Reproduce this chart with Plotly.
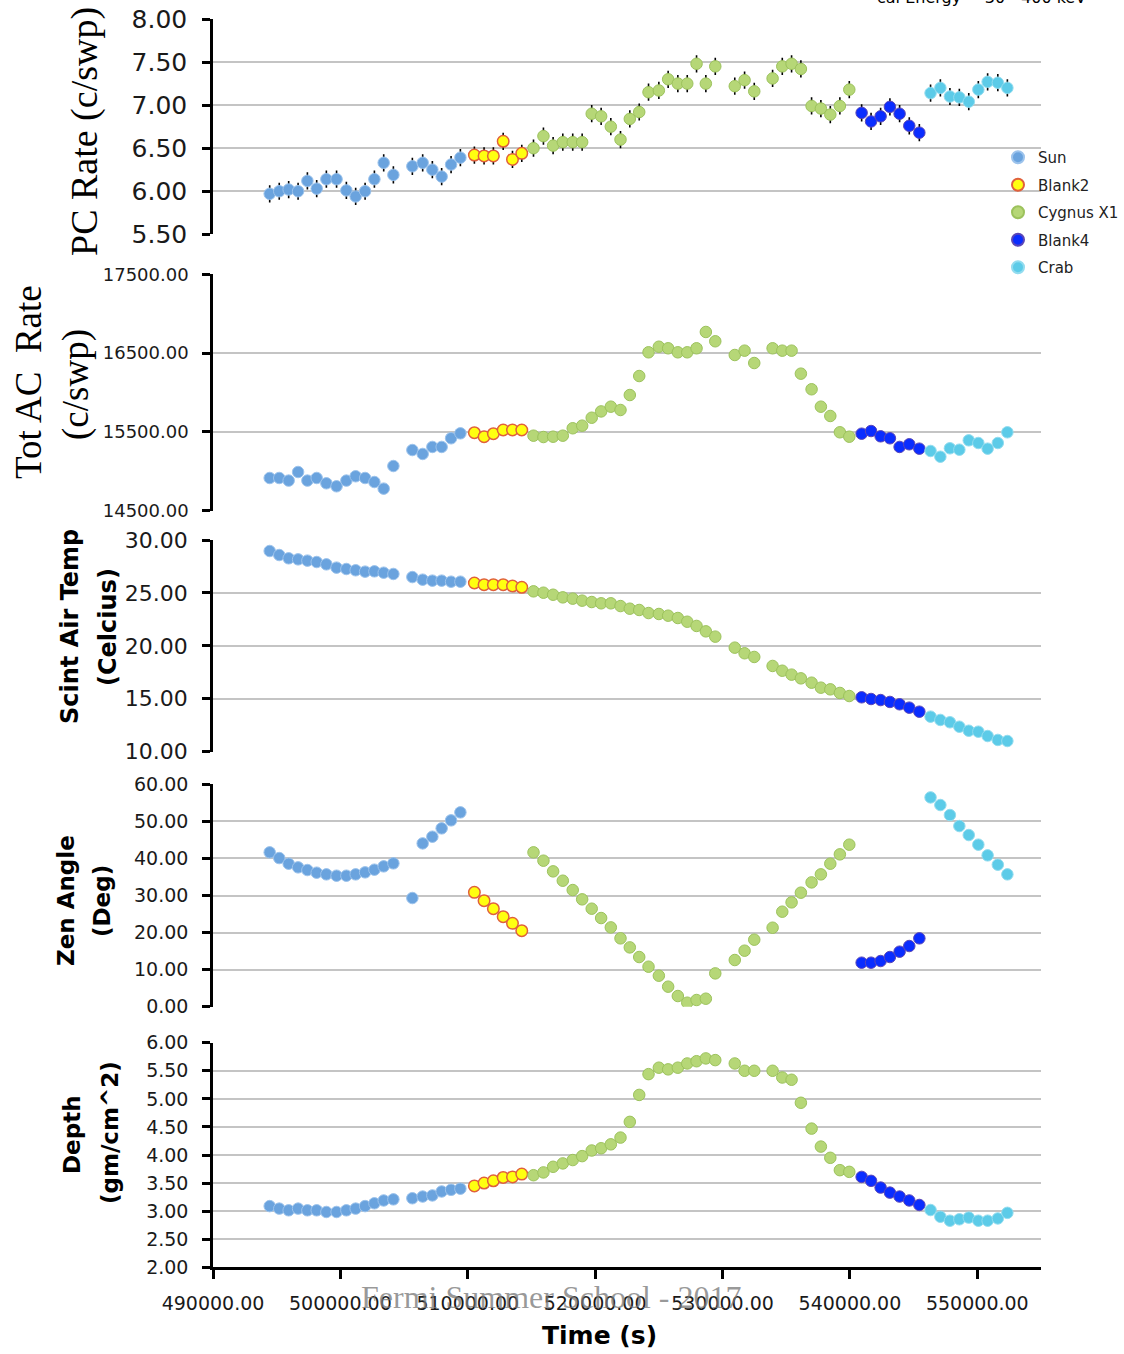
import plotly.graph_objects as go

W, H = 1124, 1354

# ---------------- data ----------------
series_names = ["Sun", "Blank2", "Cygnus X1", "Blank4", "Crab"]

t_sun = [494450, 495200, 495940, 496680, 497410, 498140, 498900, 499700, 500470, 501200,
         501940, 502670, 503400, 504160, 505650, 506460, 507220, 507950, 508690, 509420]
t_blank2 = [510520, 511280, 512010, 512780, 513510, 514240]
t_cyg = [515160, 515940, 516700, 517460, 518240, 518980, 519730, 520470, 521230, 521990,
         522720, 523460, 524190, 525000, 525730, 526490, 527230, 527960, 528690, 529430,
         530960, 531730, 532490, 533930, 534690, 535420, 536150, 536990, 537720, 538460,
         539210, 539950]
t_blank4 = [540920, 541660, 542410, 543140, 543900, 544660, 545450]
t_crab = [546330, 547100, 547850, 548590, 549330, 550080, 550810, 551610, 552360]

pc_sun = [5.97, 6.00, 6.02, 6.00, 6.12, 6.03, 6.14, 6.14, 6.01, 5.94,
          6.00, 6.14, 6.33, 6.19, 6.29, 6.33, 6.25, 6.17, 6.31, 6.39]
pc_blank2 = [6.42, 6.41, 6.41, 6.58, 6.37, 6.44]
pc_cyg = [6.50, 6.64, 6.53, 6.57, 6.57, 6.57, 6.90, 6.87, 6.75, 6.60,
          6.84, 6.92, 7.15, 7.17, 7.30, 7.25, 7.25, 7.48, 7.25, 7.45,
          7.22, 7.29, 7.16, 7.31, 7.45, 7.48, 7.42, 6.99, 6.96, 6.89,
          6.99, 7.18]
pc_blank4 = [6.91, 6.81, 6.87, 6.98, 6.90, 6.76, 6.68]
pc_crab = [7.14, 7.20, 7.10, 7.09, 7.04, 7.18, 7.27, 7.26, 7.20]
pc_err = 0.10

ac_sun = [14915, 14915, 14882, 14991, 14882, 14915, 14848, 14810, 14882, 14937,
          14915, 14864, 14780, 15067, 15270, 15220, 15309, 15309, 15419, 15482]
ac_blank2 = [15490, 15439, 15477, 15524, 15524, 15524]
ac_cyg = [15452, 15435, 15439, 15452, 15546, 15579, 15680, 15760, 15820, 15778,
          15968, 16209, 16510, 16581, 16561, 16510, 16510, 16561, 16768, 16650,
          16476, 16531, 16374, 16561, 16531, 16531, 16239, 16041, 15820, 15702,
          15495, 15439]
ac_blank4 = [15477, 15511, 15444, 15419, 15309, 15343, 15287]
ac_crab = [15258, 15185, 15292, 15274, 15393, 15359, 15287, 15359, 15495]

temp_sun = [28.96, 28.58, 28.27, 28.17, 28.05, 27.92, 27.70, 27.39, 27.26, 27.14,
            27.01, 27.04, 26.91, 26.79, 26.50, 26.25, 26.16, 26.16, 26.06, 26.06]
temp_blank2 = [25.94, 25.78, 25.78, 25.78, 25.65, 25.53]
temp_cyg = [25.15, 25.02, 24.83, 24.58, 24.46, 24.27, 24.14, 24.02, 24.02, 23.76,
            23.51, 23.39, 23.10, 23.01, 22.85, 22.63, 22.28, 21.88, 21.37, 20.87,
            19.83, 19.30, 18.95, 18.10, 17.65, 17.28, 16.93, 16.52, 16.05, 15.89,
            15.55, 15.26]
temp_blank4 = [15.14, 14.98, 14.88, 14.70, 14.48, 14.16, 13.78]
temp_crab = [13.31, 13.00, 12.78, 12.36, 11.98, 11.89, 11.48, 11.11, 11.01]

zen_sun = [41.64, 40.10, 38.58, 37.59, 36.87, 36.15, 35.70, 35.34, 35.34, 35.70,
           36.24, 36.96, 37.86, 38.67, 29.32, 44.06, 45.86, 48.11, 50.27, 52.43]
zen_blank2 = [30.85, 28.60, 26.44, 24.28, 22.48, 20.50]
zen_cyg = [41.64, 39.39, 36.51, 33.99, 31.47, 28.96, 26.44, 23.92, 21.40, 18.44,
           16.00, 13.40, 10.79, 8.36, 5.40, 2.88, 1.08, 1.80, 2.16, 8.99,
           12.59, 15.11, 18.08, 21.31, 25.63, 28.15, 30.76, 33.54, 35.70, 38.58,
           41.10, 43.71]
zen_blank4 = [11.87, 11.87, 12.32, 13.40, 14.84, 16.37, 18.44]
zen_crab = [56.47, 54.41, 51.71, 48.74, 46.31, 43.71, 40.83, 38.31, 35.70]

depth_sun = [3.09, 3.045, 3.015, 3.045, 3.015, 3.015, 2.985, 2.985, 3.015, 3.045,
             3.09, 3.14, 3.19, 3.21, 3.23, 3.26, 3.28, 3.35, 3.38, 3.40]
depth_blank2 = [3.45, 3.50, 3.54, 3.60, 3.61, 3.66]
depth_cyg = [3.64, 3.69, 3.79, 3.85, 3.91, 3.98, 4.08, 4.12, 4.19, 4.31,
             4.59, 5.07, 5.44, 5.555, 5.525, 5.555, 5.63, 5.67, 5.72, 5.69,
             5.63, 5.50, 5.50, 5.50, 5.38, 5.34, 4.93, 4.47, 4.15, 3.95,
             3.73, 3.70]
depth_blank4 = [3.61, 3.54, 3.42, 3.33, 3.26, 3.19, 3.11]
depth_crab = [3.02, 2.90, 2.83, 2.855, 2.885, 2.83, 2.83, 2.87, 2.97]

x_ticks = [490000, 500000, 510000, 520000, 530000, 540000, 550000]

# ---------------- styling ----------------
styles = {
    "Sun":       dict(color="#6aa3de", line=dict(color="#9cc3ec", width=1)),
    "Blank2":    dict(color="#ffff10", line=dict(color="#e0603c", width=1.5)),
    "Cygnus X1": dict(color="#b6d777", line=dict(color="#9cc25c", width=1)),
    "Blank4":    dict(color="#0a2dff", line=dict(color="#5a46b8", width=1)),
    "Crab":      dict(color="#5ccbe8", line=dict(color="#92dcef", width=1)),
}
times = [t_sun, t_blank2, t_cyg, t_blank4, t_crab]
panels = [
    [pc_sun, pc_blank2, pc_cyg, pc_blank4, pc_crab],
    [ac_sun, ac_blank2, ac_cyg, ac_blank4, ac_crab],
    [temp_sun, temp_blank2, temp_cyg, temp_blank4, temp_crab],
    [zen_sun, zen_blank2, zen_cyg, zen_blank4, zen_crab],
    [depth_sun, depth_blank2, depth_cyg, depth_blank4, depth_crab],
]

fig = go.Figure()
for p, vals in enumerate(panels):
    ax = "" if p == 0 else str(p + 1)
    for name, t, v in zip(series_names, times, vals):
        kw = {}
        if p == 0:
            kw["error_y"] = dict(type="constant", value=pc_err, color="black",
                                 thickness=1.6, width=0)
        fig.add_trace(go.Scatter(
            x=t, y=v, mode="markers", name=name,
            marker=dict(size=11.5, **styles[name]),
            showlegend=(p == 0), legendgroup=name,
            xaxis="x" + ax, yaxis="y" + ax, **kw))

# pixel helpers
def px_x(px):
    return px / W

def px_y(py):
    return 1 - py / H

x_dom = [px_x(213), px_x(1041)]
y_doms = [
    (234.3, 19.0),
    (510.7, 274.3),
    (751.7, 540.0),
    (1006.7, 784.3),
    (1267.3, 1042.7),
]
y_ranges = [[5.5, 8.0], [14500, 17500], [10, 30], [0, 60], [2, 6]]
y_dticks = [0.5, 1000, 5, 10, 0.5]
y_fontsizes = [25, 18, 22, 19, 19]

layout = dict(
    width=W, height=H,
    margin=dict(l=0, r=0, t=0, b=0, pad=0, autoexpand=False),
    paper_bgcolor="white", plot_bgcolor="white",
    font=dict(family="DejaVu Sans", color="#1a1a1a"),
    legend=dict(x=px_x(998), y=px_y(141), xanchor="left", yanchor="top",
                font=dict(size=15, family="DejaVu Sans", color="#222"),
                bgcolor="rgba(0,0,0,0)", tracegroupgap=5, itemsizing="constant"),
)
for p in range(5):
    ax = "" if p == 0 else str(p + 1)
    bottom = p == 4
    layout["xaxis" + ax] = dict(
        domain=x_dom, anchor="y" + ax, range=[490000, 555000], automargin=False,
        showgrid=False, zeroline=False,
        showline=bottom, linecolor="black", linewidth=2.5,
        ticks="outside" if bottom else "", ticklen=9, tickwidth=2.5, tickcolor="black",
        showticklabels=bottom, tickvals=x_ticks, tickformat=".2f",
        tickfont=dict(size=19, family="DejaVu Sans", color="#1a1a1a"),
        ticklabelstandoff=8,
    )
    lo, hi = y_doms[p]
    layout["yaxis" + ax] = dict(
        domain=[px_y(lo), px_y(hi)], anchor="x" + ax, range=y_ranges[p], automargin=False,
        tick0=y_ranges[p][0], dtick=y_dticks[p], tickformat=".2f",
        showgrid=True, gridcolor="#c4c4c4", gridwidth=2, zeroline=False,
        showline=True, linecolor="black", linewidth=2.5,
        ticks="outside", ticklen=8, tickwidth=2.5, tickcolor="black",
        tickfont=dict(size=y_fontsizes[p], family="DejaVu Sans", color="#1a1a1a"),
        ticklabelstandoff=10,
    )
fig.update_layout(**layout)

serif = "Liberation Serif"
bold = "DejaVu Sans"
ann = []
def add_text(text, x, y, size, family, angle=-90, color="black", xanchor="center",
             yanchor="middle", bold_=False):
    if bold_:
        text = "<b>" + text + "</b>"
    ann.append(dict(text=text, x=px_x(x), y=px_y(y), xref="paper", yref="paper",
                    showarrow=False, textangle=angle, xanchor=xanchor, yanchor=yanchor,
                    font=dict(size=size, family=family, color=color)))

add_text("PC Rate (c/swp)", 84, 132, 38, serif)
add_text("Tot AC  Rate", 29, 382, 37, serif)
add_text("(c/swp)", 76, 385, 37, serif)
add_text("Scint Air Temp", 70, 627, 24, bold, bold_=True)
add_text("(Celcius)", 108, 627, 24, bold, bold_=True)
add_text("Zen Angle", 66, 901, 23, bold, bold_=True)
add_text("(Deg)", 102, 901, 23, bold, bold_=True)
add_text("Depth", 72, 1135, 23, bold, bold_=True)
add_text("(gm/cm^2)", 110, 1133, 23, bold, bold_=True)
add_text("Time (s)", 600, 1335, 25, bold, angle=0, bold_=True)
add_text("Fermi Summer School - 2017", 551, 1297, 32, serif, angle=0,
         color="rgba(120,120,120,0.75)")
add_text("cal Energy ~ 30 - 400 keV", 875, 9, 16, "DejaVu Sans", angle=0,
         xanchor="left", yanchor="bottom")
fig.update_layout(annotations=ann)

fig.write_html("out.html", config={"displayModeBar": False},
               post_script="document.body.style.margin='0';")
